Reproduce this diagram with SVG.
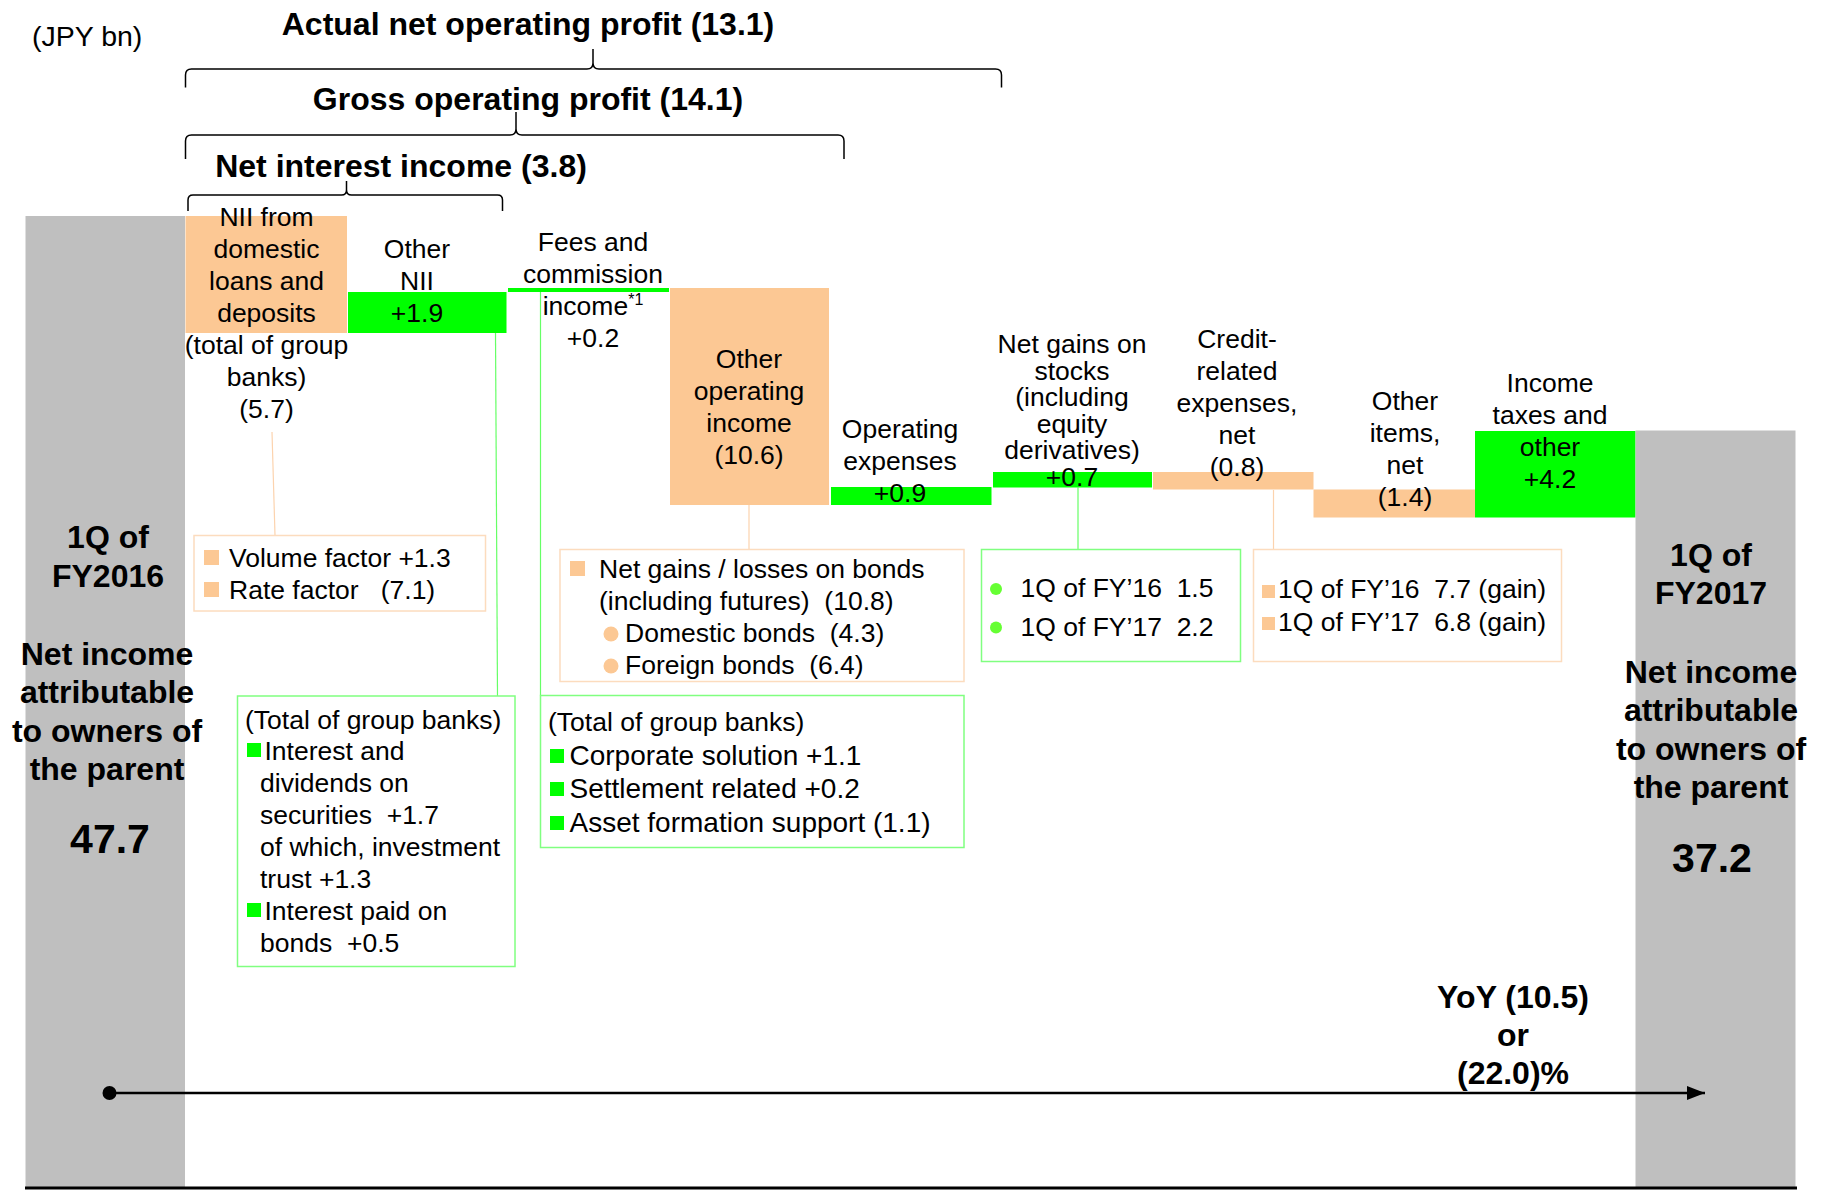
<svg xmlns="http://www.w3.org/2000/svg" width="1821" height="1191" viewBox="0 0 1821 1191">
<defs>
<style>
text{font-family:"Liberation Sans",Arial,sans-serif;font-size:26.5px;fill:#000;white-space:pre}
.c{text-anchor:middle}
.b{font-weight:bold;font-size:32px}
.big{font-weight:bold;font-size:41px}
.l28{font-size:28px}
.gray{fill:#BFBFBF}
.or{fill:#FCC894}
.gr{fill:#00FF00}
.boxo{fill:#fff;stroke:#FCDCBE;stroke-width:1.5}
.boxg{fill:#fff;stroke:#80FF80;stroke-width:1.5}
.sqo{fill:#FCC894}
.sqg{fill:#00FF00}
.lo{stroke:#FCD3AE;stroke-width:1.2;fill:none}
.lg{stroke:#66FF66;stroke-width:1.2;fill:none}
.br{stroke:#000;stroke-width:1.5;fill:none}
</style>
<marker id="arr" viewBox="0 0 18 14" refX="18" refY="7" markerWidth="18" markerHeight="14" markerUnits="userSpaceOnUse" orient="auto">
<path d="M0,0 L18,7 L0,14 Z" fill="#000"/>
</marker>
</defs>
<rect width="1821" height="1191" fill="#fff"/>

<text x="32" y="46" style="font-size:28.5px">(JPY bn)</text>

<g id="brackets">
<path class="br" d="M185.5,87.5 L185.5,75 Q185.5,69 191.5,69 L587,69 Q593,69 593,63 L593,49 M593,63 Q593,69 599,69 L995.5,69 Q1001.5,69 1001.5,75 L1001.5,87.5"/>
<path class="br" d="M185.5,159 L185.5,141 Q185.5,135 191.5,135 L510,135 Q516,135 516,129 L516,112 M516,129 Q516,135 522,135 L838,135 Q844,135 844,141 L844,159"/>
<path class="br" d="M188,211 L188,200 Q188,195 193,195 L341.5,195 Q346.5,195 346.5,190 L346.5,181 M346.5,190 Q346.5,195 351.5,195 L497.5,195 Q502.5,195 502.5,200 L502.5,211"/>
<text class="c b" x="528" y="35">Actual net operating profit (13.1)</text>
<text class="c b" x="528" y="110">Gross operating profit (14.1)</text>
<text class="c b" x="401" y="176.5">Net interest income (3.8)</text>
</g>

<g id="connectors">
<line class="lo" x1="272" y1="432" x2="275" y2="535.5"/>
<line class="lg" x1="495.5" y1="333" x2="497.5" y2="696"/>
<line class="lg" x1="540.5" y1="292" x2="540.5" y2="695.5"/>
<line class="lo" x1="749" y1="505" x2="749" y2="549.5"/>
<line class="lg" x1="1078" y1="487.5" x2="1078" y2="549.5"/>
<line class="lo" x1="1273.5" y1="490" x2="1273.5" y2="549.5"/>
</g>

<g id="start-fy2016">
<rect class="gray" x="25.5" y="216" width="159.5" height="972"/>
<text class="c b" x="108" y="548">1Q of</text>
<text class="c b" x="108" y="586.5">FY2016</text>
<text class="c b" x="107" y="665">Net income</text>
<text class="c b" x="107" y="703">attributable</text>
<text class="c b" x="107" y="741.5">to owners of</text>
<text class="c b" x="107" y="780">the parent</text>
<text class="c big" x="110" y="853">47.7</text>
</g>

<g id="nii-domestic">
<rect class="or" x="185.5" y="216" width="161.5" height="117"/>
<text class="c" x="266.5" y="226">NII from</text>
<text class="c" x="266.5" y="258">domestic</text>
<text class="c" x="266.5" y="290">loans and</text>
<text class="c" x="266.5" y="322">deposits</text>
<text class="c" x="266.5" y="354">(total of group</text>
<text class="c" x="266.5" y="386">banks)</text>
<text class="c" x="266.5" y="418">(5.7)</text>
</g>

<g id="other-nii">
<rect class="gr" x="348" y="292" width="158.5" height="41"/>
<text class="c" x="417" y="258">Other</text>
<text class="c" x="417" y="290">NII</text>
<text class="c" x="417" y="322">+1.9</text>
</g>

<g id="fees">
<rect class="gr" x="508" y="288" width="161" height="4"/>
<text class="c" x="593" y="251">Fees and</text>
<text class="c" x="593" y="283">commission</text>
<text class="c" x="593" y="315">income<tspan style="font-size:16px" dy="-10">*1</tspan></text>
<text class="c" x="593" y="347">+0.2</text>
</g>

<g id="other-operating-income">
<rect class="or" x="670" y="288" width="159" height="217"/>
<text class="c" x="749" y="368">Other</text>
<text class="c" x="749" y="400">operating</text>
<text class="c" x="749" y="432">income</text>
<text class="c" x="749" y="464">(10.6)</text>
</g>

<g id="operating-expenses">
<rect class="gr" x="831" y="487" width="160.5" height="18"/>
<text class="c" x="900" y="438">Operating</text>
<text class="c" x="900" y="470">expenses</text>
<text class="c" x="900" y="502">+0.9</text>
</g>

<g id="net-gains-stocks">
<rect class="gr" x="993" y="472" width="159" height="15.5"/>
<text class="c" x="1072" y="353">Net gains on</text>
<text class="c" x="1072" y="379.5">stocks</text>
<text class="c" x="1072" y="406">(including</text>
<text class="c" x="1072" y="432.5">equity</text>
<text class="c" x="1072" y="459">derivatives)</text>
<text class="c" x="1072" y="485.5">+0.7</text>
</g>

<g id="credit-related">
<rect class="or" x="1153" y="472" width="160.5" height="17.5"/>
<text class="c" x="1237" y="348">Credit-</text>
<text class="c" x="1237" y="380">related</text>
<text class="c" x="1237" y="412">expenses,</text>
<text class="c" x="1237" y="444">net</text>
<text class="c" x="1237" y="476">(0.8)</text>
</g>

<g id="other-items">
<rect class="or" x="1313.5" y="489.5" width="161.5" height="28"/>
<text class="c" x="1405" y="410">Other</text>
<text class="c" x="1405" y="442">items,</text>
<text class="c" x="1405" y="474">net</text>
<text class="c" x="1405" y="506">(1.4)</text>
</g>

<g id="income-taxes">
<rect class="gr" x="1475" y="431" width="160.5" height="86.5"/>
<text class="c" x="1550" y="392">Income</text>
<text class="c" x="1550" y="424">taxes and</text>
<text class="c" x="1550" y="456">other</text>
<text class="c" x="1550" y="488">+4.2</text>
</g>

<g id="end-fy2017">
<rect class="gray" x="1635.5" y="430.5" width="160" height="757.5"/>
<text class="c b" x="1711" y="565.5">1Q of</text>
<text class="c b" x="1711" y="604">FY2017</text>
<text class="c b" x="1711" y="683">Net income</text>
<text class="c b" x="1711" y="721">attributable</text>
<text class="c b" x="1711" y="759.5">to owners of</text>
<text class="c b" x="1711" y="798">the parent</text>
<text class="c big" x="1712" y="872">37.2</text>
</g>

<g id="note-nii-factors">
<rect class="boxo" x="194" y="535.5" width="291.5" height="75.5"/>
<rect class="sqo" x="204" y="550" width="15" height="15"/>
<text x="229" y="567">Volume factor +1.3</text>
<rect class="sqo" x="204" y="582" width="15" height="15"/>
<text x="229" y="599">Rate factor   (7.1)</text>
</g>

<g id="note-other-nii">
<rect class="boxg" x="237.5" y="696" width="277.5" height="270.5"/>
<text x="245" y="729">(Total of group banks)</text>
<rect class="sqg" x="247" y="743" width="14" height="14"/>
<text x="264.5" y="760">Interest and</text>
<text x="260" y="792">dividends on</text>
<text x="260" y="824">securities  +1.7</text>
<text x="260" y="856">of which, investment</text>
<text x="260" y="888">trust +1.3</text>
<rect class="sqg" x="247" y="903" width="14" height="14"/>
<text x="264.5" y="920">Interest paid on</text>
<text x="260" y="952">bonds  +0.5</text>
</g>

<g id="note-bonds">
<rect class="boxo" x="560" y="549.5" width="404" height="132"/>
<rect class="sqo" x="570" y="561" width="15" height="15"/>
<text x="599" y="578">Net gains / losses on bonds</text>
<text x="599" y="610">(including futures)  (10.8)</text>
<circle class="sqo" cx="611" cy="634" r="7.5"/>
<text x="625" y="642">Domestic bonds  (4.3)</text>
<circle class="sqo" cx="611" cy="666" r="7.5"/>
<text x="625" y="674">Foreign bonds  (6.4)</text>
</g>

<g id="note-fees">
<rect class="boxg" x="540.5" y="695.5" width="423.5" height="152"/>
<text x="548" y="731">(Total of group banks)</text>
<rect class="sqg" x="550" y="749" width="14" height="14"/>
<text class="l28" x="569.5" y="765">Corporate solution +1.1</text>
<rect class="sqg" x="550" y="782" width="14" height="14"/>
<text class="l28" x="569.5" y="798">Settlement related +0.2</text>
<rect class="sqg" x="550" y="816" width="14" height="14"/>
<text class="l28" x="569.5" y="832">Asset formation support (1.1)</text>
</g>

<g id="note-stocks">
<rect class="boxg" x="981.5" y="549.5" width="259" height="112"/>
<circle cx="996" cy="589" r="6" fill="#66FF33"/>
<text x="1020.5" y="597">1Q of FY’16  1.5</text>
<circle cx="996" cy="627.5" r="6" fill="#66FF33"/>
<text x="1020.5" y="635.5">1Q of FY’17  2.2</text>
</g>

<g id="note-credit">
<rect class="boxo" x="1253.5" y="549.5" width="308" height="112"/>
<rect class="sqo" x="1262" y="585" width="13" height="13"/>
<text x="1278" y="598">1Q of FY’16  7.7 (gain)</text>
<rect class="sqo" x="1262" y="617" width="13" height="13"/>
<text x="1278" y="631">1Q of FY’17  6.8 (gain)</text>
</g>

<g id="yoy">
<circle cx="109.5" cy="1093" r="7" fill="#000"/>
<line x1="109.5" y1="1093" x2="1705" y2="1093" stroke="#000" stroke-width="2.5" marker-end="url(#arr)"/>
<text class="c b" x="1513" y="1008">YoY (10.5)</text>
<text class="c b" x="1513" y="1046">or</text>
<text class="c b" x="1513" y="1083.5">(22.0)%</text>
</g>

<line id="baseline" x1="25" y1="1188" x2="1797" y2="1188" stroke="#000" stroke-width="3"/>
</svg>
